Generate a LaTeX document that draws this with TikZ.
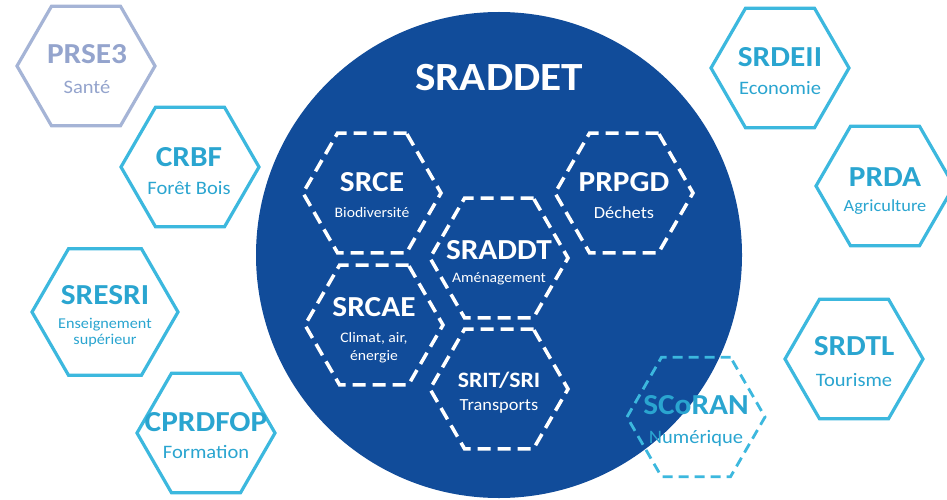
\documentclass[tikz,border=0pt]{standalone}
\usepackage{fontspec}
\setmainfont[FakeStretch=1.08]{Carlito}
\usetikzlibrary{shapes.geometric}
\definecolor{circblue}{RGB}{17,76,154}
\definecolor{hexcyan}{RGB}{60,184,222}
\definecolor{txtcyan}{RGB}{42,165,208}
\definecolor{hexgray}{RGB}{165,180,214}
\definecolor{txtgray}{RGB}{148,164,205}
\begin{document}
\begin{tikzpicture}[x=1pt,y=-1pt,
  hexo/.style={regular polygon, regular polygon sides=6, minimum size=138pt,
    inner sep=0pt, outer sep=0pt, draw=hexcyan, line width=3.2pt},
  hexg/.style={hexo, draw=hexgray},
  hexsc/.style={hexo, line width=2.8pt, dash pattern=on 10pt off 6pt},
  hexd/.style={regular polygon, regular polygon sides=6, minimum size=138pt,
    inner sep=0pt, outer sep=0pt, draw=white, line width=3.5pt,
    dash pattern=on 13pt off 7pt},
  ttl/.style={anchor=base, inner sep=0pt, font=\bfseries\fontsize{29}{30}\selectfont},
  sub/.style={anchor=base, inner sep=0pt, font=\fontsize{19}{20}\selectfont},
  subs/.style={anchor=base, inner sep=0pt, font=\fontsize{14.5}{15}\selectfont},
  subm/.style={anchor=base, inner sep=0pt, font=\fontsize{17}{18}\selectfont},
  oc/.style={text=txtcyan},
  og/.style={text=txtgray},
  iw/.style={text=white}]
\useasboundingbox (0,0) rectangle (947,500);
\fill[white] (0,0) rectangle (947,500);

% big circle
\node[circle, fill=circblue, minimum size=486pt, inner sep=0pt] (big) at (499,255) {};
\node[anchor=base, inner sep=0pt, text=white, font=\bfseries\fontsize{40}{42}\selectfont] (bigt) at (499,91) {SRADDET};

% inner dashed hexagons
\node[hexd] (srce) at (372,193) {};
\node[ttl, iw] (srce-t) at (372,191) {SRCE};
\node[subs, iw] (srce-s) at (372,217) {Biodiversité};

\node[hexd] (prpgd) at (624,193) {};
\node[ttl, iw] (prpgd-t) at (624,191) {PRPGD};
\node[subm, iw] (prpgd-s) at (624,218) {Déchets};

\node[hexd] (sraddt) at (499,258) {};
\node[ttl, iw] (sraddt-t) at (499,259) {SRADDT};
\node[subs, iw] (sraddt-s) at (499,282) {Aménagement};

\node[hexd] (srcae) at (374,325) {};
\node[ttl, iw] (srcae-t) at (374,316) {SRCAE};
\node[subs, iw] (srcae-s1) at (374,342) {Climat, air,};
\node[subs, iw] (srcae-s2) at (374,360) {énergie};

\node[hexd] (srit) at (499,389) {};
\node[anchor=base, inner sep=0pt, text=white, font=\bfseries\fontsize{22}{23}\selectfont] (srit-t) at (499,387) {SRIT/SRI};
\node[subm, iw] (srit-s) at (499,410) {Transports};

% outer hexagons
\node[hexg] (prse) at (86,66) {};
\node[ttl, og] (prse-t) at (87,64) {PRSE3};
\node[sub, og] (prse-s) at (87,94) {Santé};

\node[hexo] (crbf) at (190,167) {};
\node[ttl, oc] (crbf-t) at (189,166) {CRBF};
\node[sub, oc] (crbf-s) at (189,194) {Forêt Bois};

\node[hexo, minimum size=146pt] (sresri) at (105,312) {};
\node[ttl, oc] (sresri-t) at (105,304) {SRESRI};
\node[anchor=base, inner sep=0pt, oc, font=\fontsize{15}{16}\selectfont] (sresri-s1) at (105,328) {Enseignement};
\node[anchor=base, inner sep=0pt, oc, font=\fontsize{15}{16}\selectfont] (sresri-s2) at (105,344) {supérieur};

\node[hexo] (cprdfop) at (206,433) {};
\node[ttl, oc] (cprdfop-t) at (206,431) {CPRDFOP};
\node[sub, oc] (cprdfop-s) at (206,458) {Formation};

\node[hexo] (srdeii) at (780,68) {};
\node[ttl, oc] (srdeii-t) at (780,67) {SRDEII};
\node[sub, oc] (srdeii-s) at (780,95) {Economie};

\node[hexo] (prda) at (885,186) {};
\node[ttl, oc] (prda-t) at (885,186) {PRDA};
\node[subm, oc] (prda-s) at (885,211) {Agriculture};

\node[hexo] (srdtl) at (854,359) {};
\node[ttl, oc] (srdtl-t) at (854,355) {SRDTL};
\node[sub, oc] (srdtl-s) at (854,386) {Tourisme};

\node[hexsc] (scoran) at (696,417) {};
\node[ttl, oc] (scoran-t) at (696,414) {SCoRAN};
\node[sub, oc] (scoran-s) at (696,443) {Numérique};
\end{tikzpicture}
\end{document}
